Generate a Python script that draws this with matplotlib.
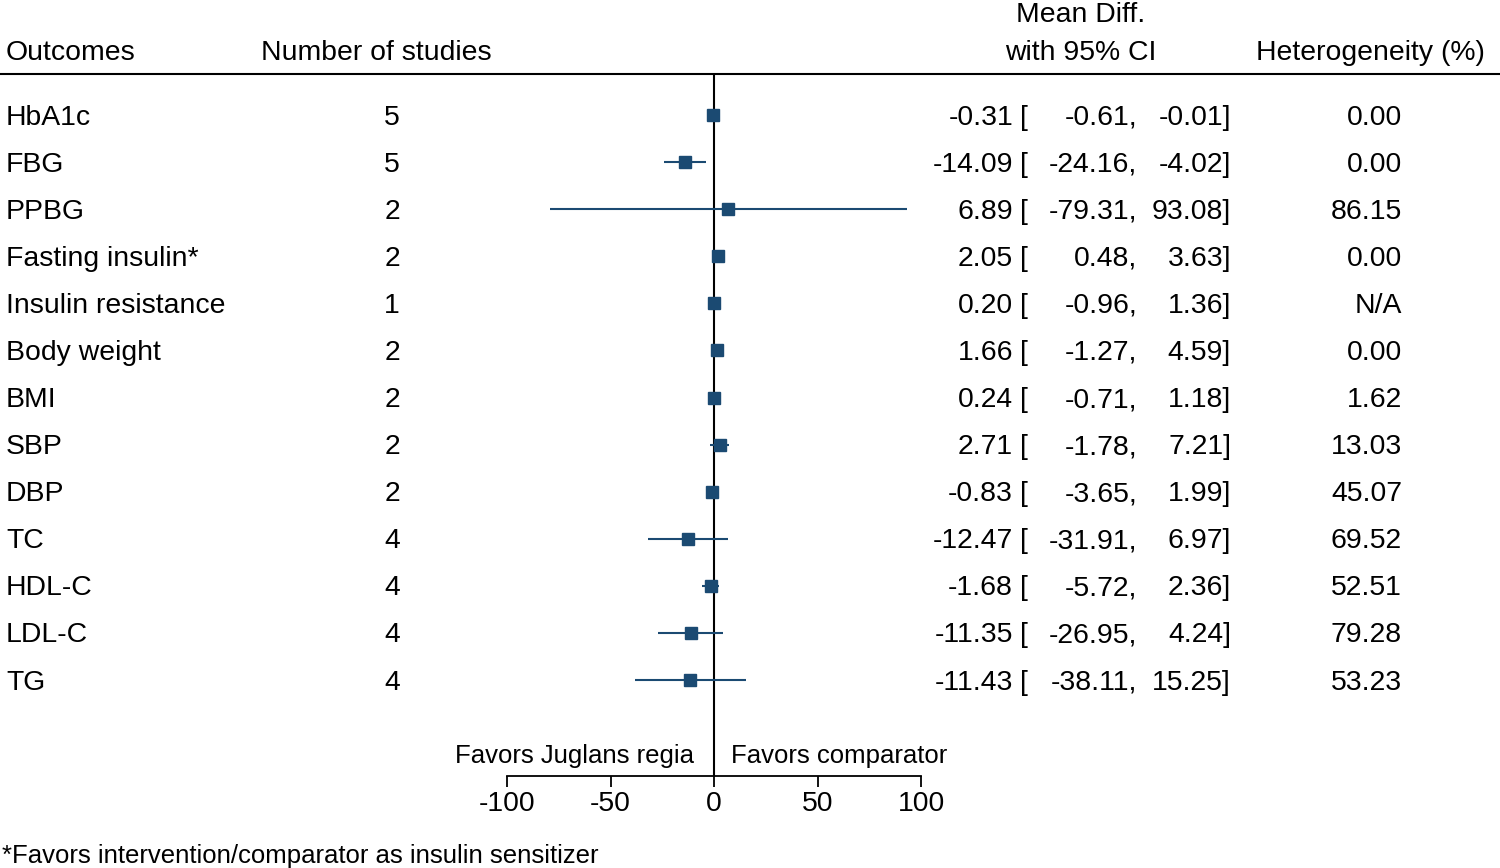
import matplotlib
matplotlib.use("Agg")
from matplotlib import pyplot as plt
from matplotlib import transforms

plt.rcParams['font.family'] = ['Liberation Sans', 'DejaVu Sans']

outcomes = ["HbA1c", "FBG", "PPBG", "Fasting insulin*", "Insulin resistance", "Body weight",
            "BMI", "SBP", "DBP", "TC", "HDL-C", "LDL-C", "TG"]
n_studies = [5, 5, 2, 2, 1, 2, 2, 2, 2, 4, 4, 4, 4]
mean_diff = [-0.31, -14.09, 6.89, 2.05, 0.20, 1.66, 0.24, 2.71, -0.83, -12.47, -1.68, -11.35, -11.43]
ci_low = [-0.61, -24.16, -79.31, 0.48, -0.96, -1.27, -0.71, -1.78, -3.65, -31.91, -5.72, -26.95, -38.11]
ci_high = [-0.01, -4.02, 93.08, 3.63, 1.36, 4.59, 1.18, 7.21, 1.99, 6.97, 2.36, 4.24, 15.25]
heterog = ["0.00", "0.00", "86.15", "0.00", "N/A", "0.00", "1.62", "13.03", "45.07",
           "69.52", "52.51", "79.28", "53.23"]
xticks = [-100, -50, 0, 50, 100]

W, H = 1500, 868
color = "#1b4a72"
fs = 20.4
fs_small = 18.5


def fx(px):
    return px / W


def fy(py):
    return 1 - py / H


fig = plt.figure(figsize=(15, 8.68), dpi=100)
ax = fig.add_axes([fx(507), fy(776), fx(921) - fx(507), (776 - 74) / H])

rows = list(range(len(outcomes)))
# row 0 at pixel 115, row 12 at pixel 680
step = (680 - 115) / 12
ax.set_ylim((776 - 115) / step, (74 - 115) / step)
ax.set_xlim(-100, 100)

for i in rows:
    ax.plot([ci_low[i], ci_high[i]], [i, i], color=color, lw=1.5, solid_capstyle="butt", zorder=2)
ax.plot(mean_diff, rows, "s", color=color, markersize=8.6, zorder=3, linestyle="none")
ax.axvline(0, color="black", lw=1.5, zorder=1)

for s in ["top", "left", "right"]:
    ax.spines[s].set_visible(False)
ax.spines["bottom"].set_linewidth(1.3)
ax.set_yticks([])
ax.set_xticks(xticks)
ax.set_xticklabels([str(t) for t in xticks])
ax.tick_params(axis="x", length=8, width=1.3, labelsize=fs, pad=3)

# text nudged down a little so it sits on the row centre
down = transforms.ScaledTranslation(0, -0.025, fig.dpi_scale_trans)
tr = transforms.blended_transform_factory(fig.transFigure, ax.transData) + down
ftr = fig.transFigure + down

for i in rows:
    ax.text(fx(6), i, outcomes[i], transform=tr, fontsize=fs, ha="left", va="center")
    ax.text(fx(392), i, str(n_studies[i]), transform=tr, fontsize=fs, ha="center", va="center")
    ax.text(fx(1013), i, "%.2f" % mean_diff[i], transform=tr, fontsize=fs, ha="right", va="center")
    ax.text(fx(1020), i, "[", transform=tr, fontsize=fs, ha="left", va="center")
    ax.text(fx(1137), i, "%.2f," % ci_low[i], transform=tr, fontsize=fs, ha="right", va="center")
    ax.text(fx(1231), i, "%.2f]" % ci_high[i], transform=tr, fontsize=fs, ha="right", va="center")
    ax.text(fx(1402), i, heterog[i], transform=tr, fontsize=fs, ha="right", va="center")

# headers
fig.text(fx(6), fy(50), "Outcomes", transform=ftr, fontsize=fs, ha="left", va="center")
fig.text(fx(261), fy(50), "Number of studies", transform=ftr, fontsize=fs, ha="left", va="center")
fig.text(fx(1081), fy(12), "Mean Diff.", transform=ftr, fontsize=fs, ha="center", va="center")
fig.text(fx(1081), fy(50), "with 95% CI", transform=ftr, fontsize=fs, ha="center", va="center")
fig.text(fx(1256), fy(50), "Heterogeneity (%)", transform=ftr, fontsize=fs, ha="left", va="center")
fig.add_artist(plt.Line2D([0, 1], [fy(74), fy(74)], color="black", lw=1.5))

fig.text(fx(694), fy(753), "Favors Juglans regia", transform=ftr, fontsize=fs_small, ha="right", va="center")
fig.text(fx(731), fy(753), "Favors comparator", transform=ftr, fontsize=fs_small, ha="left", va="center")
fig.text(fx(2), fy(854), "*Favors intervention/comparator as insulin sensitizer",
         transform=ftr, fontsize=fs_small, ha="left", va="center")

fig.savefig("out.png", dpi=100)
